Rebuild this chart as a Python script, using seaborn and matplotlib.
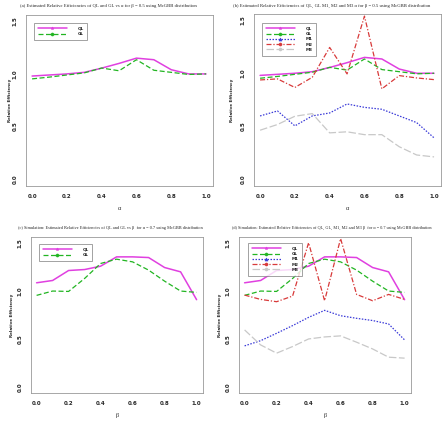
import numpy as np
import pandas as pd
import matplotlib
matplotlib.use("Agg")
import matplotlib.pyplot as plt
import seaborn as sns
from matplotlib.lines import Line2D

sns.set_style("white")
plt.rcParams['font.family'] = ['DejaVu Sans']

# ---------------- data ----------------
grid = [0.0, 0.1, 0.2, 0.3, 0.4, 0.5, 0.6, 0.7, 0.8, 0.9, 1.0]

# panel (a)/(b): vs alpha, beta = 0.5
a_ql = [0.98, 0.99, 1.00, 1.015, 1.055, 1.10, 1.15, 1.135, 1.04, 1.00, 1.00]
a_gl = [0.953, 0.97, 0.99, 1.01, 1.056, 1.03, 1.135, 1.035, 1.015, 0.995, 1.00]
b_m1 = [0.597, 0.644, 0.503, 0.597, 0.625, 0.71, 0.678, 0.66, 0.597, 0.534, 0.39]
b_m2 = [0.937, 0.947, 0.866, 0.962, 1.244, 0.994, 1.54, 0.853, 0.978, 0.956, 0.94]
b_m3 = [0.462, 0.516, 0.594, 0.619, 0.437, 0.447, 0.42, 0.42, 0.306, 0.228, 0.21]

# panel (c)/(d): vs beta, alpha = 0.7
c_ql = [1.083, 1.107, 1.211, 1.221, 1.256, 1.353, 1.353, 1.346, 1.242, 1.197, 0.907]
c_gl = [0.952, 0.997, 0.993, 1.128, 1.284, 1.329, 1.301, 1.215, 1.10, 0.997, 0.983]
d_m1 = [0.426, 0.48, 0.557, 0.637, 0.723, 0.796, 0.74, 0.713, 0.69, 0.654, 0.488]
d_m2 = [0.955, 0.91, 0.886, 0.945, 1.50, 0.896, 1.543, 0.962, 0.896, 0.962, 0.91]
d_m3 = [0.592, 0.436, 0.35, 0.419, 0.498, 0.519, 0.53, 0.464, 0.394, 0.308, 0.298]

series_names = ["QL", "GL", "M1", "M2", "M3"]
titles = [
    "(a) Estimated Relative Efficiencies of QL and GL vs \u03b1 for \u03b2 = 0.5 using McGBB distribution",
    "(b) Estimated Relative Efficiencies of QL, GL M1, M2 and M3 \u03b1 for \u03b2 = 0.5 using McGBB distribution",
    "(c) Simulation: Estimated Relative Efficiencies of QL and GL vs \u03b2  for \u03b1 = 0.7 using McGBB distribution",
    "(d) Simulation: Estimated Relative Efficiencies of QL, GL, M1, M2 and M3 \u03b2  for \u03b1 = 0.7 using McGBB distribution",
]
xticks = [0.0, 0.2, 0.4, 0.6, 0.8, 1.0]
yticks = [0.0, 0.5, 1.0, 1.5]

# ---------------- styles ----------------
styles = {
    "QL": dict(color="#e040e0", dashes=None, marker="*", lw=1.1),
    "GL": dict(color="#22b522", dashes=(4, 2), marker="o", lw=0.9),
    "M1": dict(color="#3a3ad8", dashes=(1.2, 1.2), marker="^", lw=0.9),
    "M2": dict(color="#d83a3a", dashes=(4, 1.5, 1, 1.5), marker="o", lw=0.9),
    "M3": dict(color="#c8c8c8", dashes=(6, 2), marker="o", lw=0.9),
}

W, H = 443, 421
fig = plt.figure(figsize=(W / 100, H / 100), dpi=100)

def px_axes(x0, y0, x1, y1):
    return fig.add_axes([x0 / W, 1 - y1 / H, (x1 - x0) / W, (y1 - y0) / H])

panels = [
    dict(box=(26, 15, 213, 186), data={"QL": a_ql, "GL": a_gl}, xl="\u03b1",
         leg=(34, 23, 87, 44), ylab_x=10),
    dict(box=(254, 14, 441, 186), data={"QL": a_ql, "GL": a_gl, "M1": b_m1, "M2": b_m2, "M3": b_m3},
         xl="\u03b1", leg=(262, 23, 315, 60), ylab_x=232),
    dict(box=(31, 237, 203, 393), data={"QL": c_ql, "GL": c_gl}, xl="\u03b2",
         leg=(39, 244, 87, 263), ylab_x=12),
    dict(box=(239, 237, 411, 393), data={"QL": c_ql, "GL": c_gl, "M1": d_m1, "M2": d_m2, "M3": d_m3},
         xl="\u03b2", leg=(248, 243, 295, 277), ylab_x=220),
]

for i, p in enumerate(panels):
    ax = px_axes(*p["box"])
    rows = []
    for name, vals in p["data"].items():
        for xv, yv in zip(grid, vals):
            rows.append((name, xv, yv))
    df = pd.DataFrame(rows, columns=["series", "x", "y"])
    handles = []
    for name in p["data"]:
        st = styles[name]
        sub = df[df.series == name]
        sns.lineplot(data=sub, x="x", y="y", ax=ax, color=st["color"],
                     linewidth=st["lw"], estimator=None, sort=False, legend=False)
        l = ax.lines[-1]
        if st["dashes"] is not None:
            l.set_dashes(st["dashes"])
        h = Line2D([], [], color=st["color"], linewidth=st["lw"], marker=st["marker"],
                   markersize=2.2, markeredgewidth=0.4)
        if st["dashes"] is not None:
            h.set_dashes(st["dashes"])
        handles.append(h)

    ax.set_xlim(-0.035, 1.04)
    ax.set_ylim(-0.065, 1.56)
    ax.set_xticks(xticks)
    ax.set_yticks(yticks)
    ax.set_xticklabels([f"{t:.1f}" for t in xticks], fontsize=4.0, fontweight="bold")
    ax.set_yticklabels([f"{t:.1f}" for t in yticks], fontsize=4.0, fontweight="bold",
                       rotation=90, va="center")
    ax.tick_params(axis="both", direction="out", length=2, width=0.5, color="#888888", pad=4)
    for s in ax.spines.values():
        s.set_color("#999999")
        s.set_linewidth(0.6)
    ax.set_xlabel("")
    ax.set_ylabel("")

    # axis labels
    x0, y0, x1, y1 = p["box"]
    fig.text(((x0 + x1) / 2) / W, 1 - (y1 + 22) / H, p["xl"], family="Liberation Serif",
             fontsize=4.5, ha="center", va="center")
    fig.text(p["ylab_x"] / W, 1 - ((y0 + y1) / 2) / H, "Relative Efficiency", fontsize=3,
             fontweight="bold", rotation=90, ha="center", va="center")

    # legend
    lx0, ly0, lx1, ly1 = p["leg"]
    leg = ax.legend(handles, list(p["data"].keys()), loc="upper left",
                    bbox_to_anchor=(lx0 / W, 1 - ly0 / H), bbox_transform=fig.transFigure,
                    prop=dict(size=3, weight="bold"), handlelength=7,
                    handletextpad=2.5, numpoints=1, fancybox=False, frameon=True,
                    borderpad=0.9, labelspacing=0.3, borderaxespad=0)
    leg.get_frame().set_edgecolor("#777777")
    leg.get_frame().set_linewidth(0.6)

# titles
fig.text(108 / W, 1 - 6 / H, titles[0], family="Liberation Serif", fontsize=3.4, ha="center", va="center")
fig.text(332 / W, 1 - 6 / H, titles[1], family="Liberation Serif", fontsize=3.4, ha="center", va="center")
fig.text(110 / W, 1 - 228 / H, titles[2], family="Liberation Serif", fontsize=3.2, ha="center", va="center")
fig.text(332 / W, 1 - 228 / H, titles[3], family="Liberation Serif", fontsize=3.1, ha="center", va="center")

fig.savefig("out.png", dpi=100)
